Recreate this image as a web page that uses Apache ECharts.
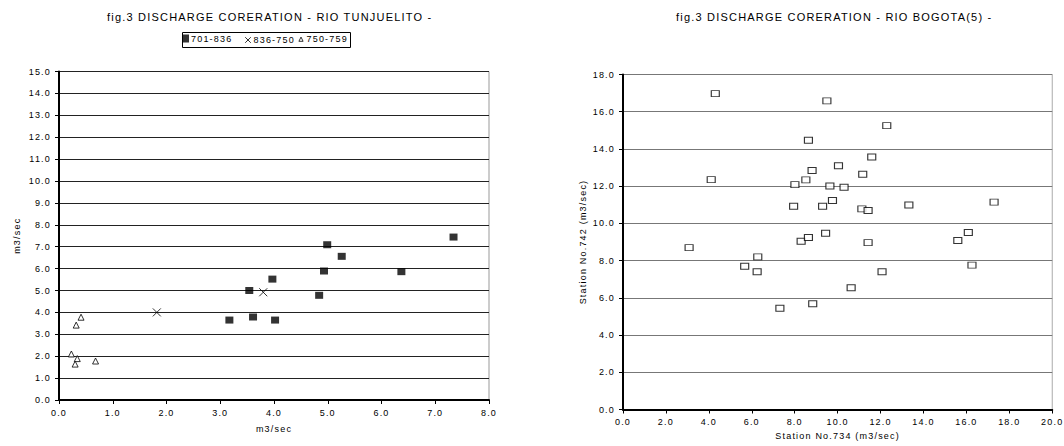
<!DOCTYPE html>
<html>
<head>
<meta charset="utf-8">
<script src="https://cdn.jsdelivr.net/npm/echarts@6/dist/echarts.min.js"></script>
<style>
  html, body { margin: 0; padding: 0; background: #fff; }
  #chart { width: 1064px; height: 446px; }
  /* the original print uses loosely spaced lettering */
  #chart svg text { letter-spacing: 1.2px; }
</style>
</head>
<body>
<div id="chart"></div>
<script>
  // Rio Tunjuelito, discharge pairs (m3/sec)
  let tun701 = [[3.17, 3.65], [3.54, 5.0], [3.61, 3.79], [3.97, 5.52], [4.02, 3.65], [4.84, 4.78],
    [4.93, 5.89], [4.99, 7.09], [5.26, 6.56], [6.37, 5.86], [7.34, 7.44]]
  let tun836 = [[1.82, 4.0], [3.80, 4.92]]
  let tun750 = [[0.23, 2.1], [0.30, 1.64], [0.32, 3.42], [0.34, 1.89], [0.41, 3.78], [0.68, 1.78]]
  let tunNames = ['701-836', '836-750', '750-759']

  // Rio Bogota(5): station 734 vs station 742
  let bogota = [[3.08, 8.70], [4.11, 12.35], [4.30, 16.97], [5.67, 7.70], [6.25, 7.40], [6.28, 8.20],
    [7.31, 5.44], [7.95, 10.92], [8.01, 12.08], [8.30, 9.04], [8.52, 12.34], [8.64, 14.47],
    [8.64, 9.24], [8.81, 12.84], [8.84, 5.68], [9.30, 10.92], [9.44, 9.47], [9.50, 16.58],
    [9.64, 12.01], [9.76, 11.23], [10.04, 13.10], [10.30, 11.94], [10.63, 6.54], [11.13, 10.78],
    [11.17, 12.64], [11.42, 10.69], [11.42, 8.97], [11.59, 13.57], [12.07, 7.40], [12.29, 15.25],
    [13.32, 10.99], [15.60, 9.08], [16.09, 9.51], [16.26, 7.76], [17.29, 11.14]]

  let font = "'Liberation Sans', Arial, sans-serif"
  let fmt = (v) => v.toFixed(1)

  function valueAxis (idx, min, max, step, name, gap, split) {
    return {
      type: 'value',
      gridIndex: idx,
      min: min,
      max: max,
      interval: step,
      name: name,
      nameLocation: 'middle',
      nameGap: gap,
      nameTextStyle: { fontFamily: font, fontSize: 9, color: '#000' },
      axisLine: { show: true, onZero: false, lineStyle: { color: '#000', width: 2 } },
      axisTick: { show: true, length: 4, lineStyle: { color: '#000' } },
      axisLabel: { fontFamily: font, fontSize: 9, color: '#000', margin: 8, formatter: fmt },
      splitLine: { show: split, lineStyle: { color: idx === 0 ? '#222' : '#777', width: 1 } }
    }
  }

  // one legend per item so the spaced-out text does not collide
  function legendItem (item, left) {
    return {
      data: [item],
      left: left,
      top: 34,
      padding: 0,
      itemWidth: 7,
      itemHeight: 8,
      textStyle: { fontFamily: font, fontSize: 9, color: '#000', padding: [0, 0, 0, -3] }
    }
  }

  let xLeft = valueAxis(0, 0, 8, 1, 'm3/sec', 24, false)
  let yLeft = valueAxis(0, 0, 15, 1, 'm3/sec', 38, true)
  let xRight = valueAxis(1, 0, 20, 2, 'Station No.734 (m3/sec)', 22, false)
  let yRight = valueAxis(1, 0, 18, 2, 'Station No.742 (m3/sec)', 36, true)

  let hollow = { color: '#fff', borderColor: '#000', borderWidth: 1 }

  let option = {
    animation: false,
    backgroundColor: '#fff',
    title: [
      { text: 'fig.3 DISCHARGE CORERATION - RIO TUNJUELITO -', left: 102, top: 6,
        textStyle: { fontFamily: font, fontSize: 11, fontWeight: 'normal', color: '#000' } },
      { text: 'fig.3 DISCHARGE CORERATION - RIO BOGOTA(5) -', left: 671, top: 6,
        textStyle: { fontFamily: font, fontSize: 11, fontWeight: 'normal', color: '#000' } }
    ],
    legend: [
      legendItem({ name: tunNames[0] }, 182),
      legendItem({ name: tunNames[1], icon: 'path://M0,0M10,10M1,1L9,9M9,1L1,9',
        itemStyle: { color: 'none', borderColor: '#000', borderWidth: 1 } }, 242),
      legendItem({ name: tunNames[2], icon: 'path://M0,0M10,10M2,9L5,3L8,9Z', itemStyle: hollow }, 297)
    ],
    graphic: [
      { type: 'rect', left: 180, top: 30, shape: { width: 168, height: 15 },
        style: { fill: 'none', stroke: '#000', lineWidth: 1 } }
    ],
    grid: [
      { left: 59, top: 71.5, width: 430, height: 328.5, show: true, borderColor: '#999', borderWidth: 1 },
      { left: 623, top: 74.5, width: 435, height: 335, show: true, borderColor: '#aaa', borderWidth: 1 }
    ],
    xAxis: [xLeft, xRight],
    yAxis: [yLeft, yRight],
    series: [
      {
        name: tunNames[0], type: 'scatter', xAxisIndex: 0, yAxisIndex: 0,
        symbol: 'rect', symbolSize: [8, 7],
        itemStyle: { color: '#000' },
        data: tun701
      },
      {
        name: tunNames[1], type: 'scatter', xAxisIndex: 0, yAxisIndex: 0,
        symbol: 'path://M0,0L10,10M10,0L0,10', symbolSize: 8,
        itemStyle: { color: 'none', borderColor: '#000', borderWidth: 1 },
        data: tun836
      },
      {
        name: tunNames[2], type: 'scatter', xAxisIndex: 0, yAxisIndex: 0,
        symbol: 'triangle', symbolSize: 6,
        itemStyle: hollow,
        data: tun750
      },
      {
        name: 'Bogota', type: 'scatter', xAxisIndex: 1, yAxisIndex: 1,
        symbol: 'rect', symbolSize: [8, 6],
        itemStyle: hollow,
        data: bogota
      }
    ]
  }

  let chart = echarts.init(document.getElementById('chart'), null, { renderer: 'svg' })
  chart.setOption(option)
</script>
</body>
</html>
